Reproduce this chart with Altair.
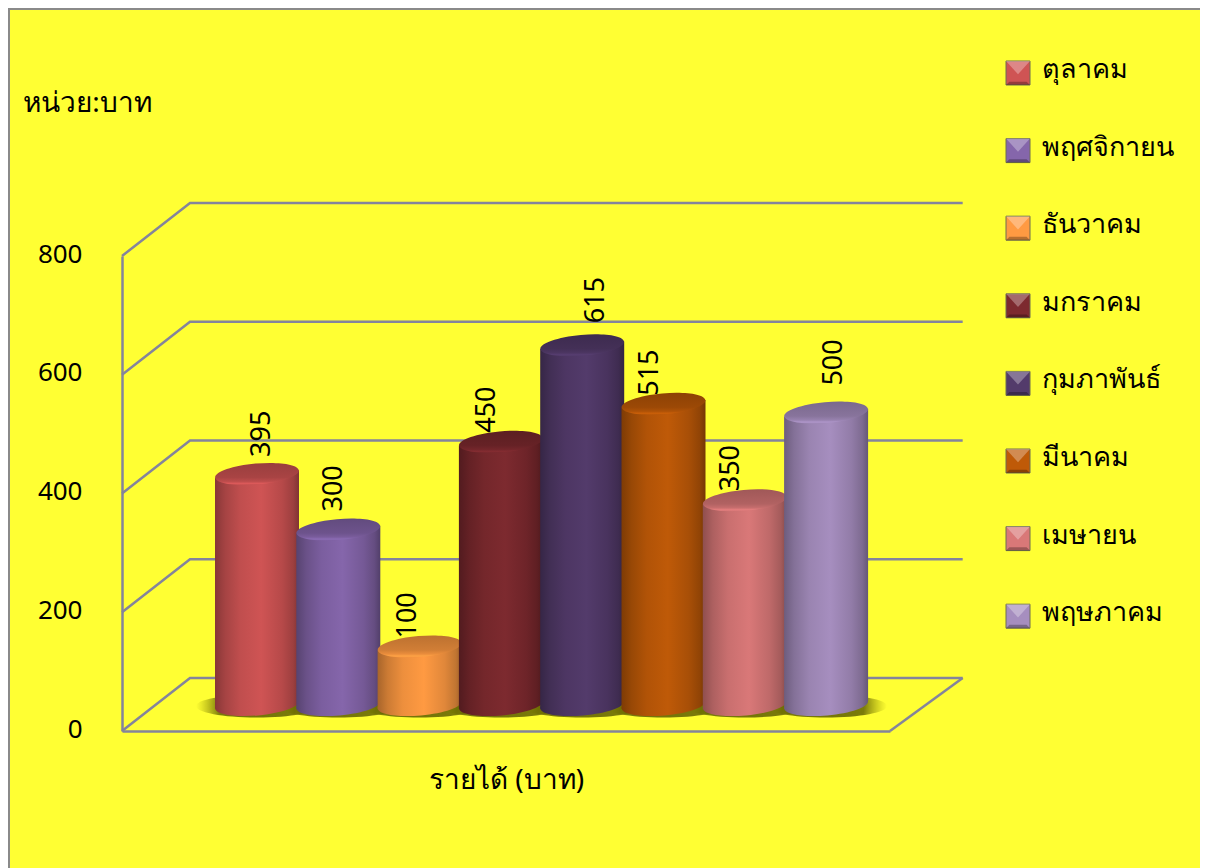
import altair as alt
import pandas as pd

MONTHS = ["ตุลาคม", "พฤศจิกายน", "ธันวาคม", "มกราคม", "กุมภาพันธ์", "มีนาคม", "เมษายน", "พฤษภาคม"]
VALUES = [395, 300, 100, 450, 615, 515, 350, 500]
COLORS = ["#cf5454", "#8566ab", "#ff9a42", "#7d2a2f", "#533b6b", "#bf5a08", "#d97878", "#a68ebf"]
TICKS = [0, 200, 400, 600, 800]
LABEL_SX = [5, -4, -12, -14, 14, -14, -14, 8]
LABEL_SY = [-17, -18, -8, -9, -22, -8, -9, -27]

FONT = "Noto Sans"
BG = "#ffff33"
LINE = "#84849c"
PLOT_W, PLOT_H = 768, 475
UX, UY = 81.3, PLOT_H / 800
X0 = -135 / UX
X1 = X0 + PLOT_W / UX
DEPTH_X, DEPTH_Y = 68 / UX, 53 / UY
BASE = 26 / UY
SHADOW_Y = 25 / UY
FORESHORTEN = 0.985
HALF = 42 / UX
TILT = 3.8 / UY
LEG_X = (1018 - 257) / UX
LEG_TX = (1042 - 257) / UX
LEG_TOP = (731 - 73) / UY
LEG_STEP = 77.6 / UY

xs = alt.Scale(domain=[X0, X1], nice=False, zero=False)
ys = alt.Scale(domain=[0, 800], nice=False, zero=False)
X_AXIS = alt.Axis(
    title="รายได้ (บาท)", labels=False, ticks=False, grid=False, domainColor=LINE, domainWidth=2.5,
    titleFont=FONT, titleFontSize=28, titleFontWeight="normal", titleColor="#000", titlePadding=35)
Y_AXIS = alt.Axis(
    values=TICKS, title="หน่วย:บาท", titleAngle=0, titleX=-35, titleY=-139, titleAlign="center",
    titleFont=FONT, titleFontSize=28, titleFontWeight="normal", titleColor="#000",
    labelFont=FONT, labelFontSize=26, labelColor="#000", labelPadding=40, labelOffset=-2, ticks=False, grid=False,
    domainColor=LINE, domainWidth=2.5)
X = lambda f="x": alt.X(f"{f}:Q", scale=xs, axis=X_AXIS)
Y = lambda f="y": alt.Y(f"{f}:Q", scale=ys, axis=Y_AXIS)


def shade(c, k):
    r, g, b = int(c[1:3], 16), int(c[3:5], 16), int(c[5:7], 16)
    return "#%02x%02x%02x" % tuple(min(255, int(v * k)) for v in (r, g, b))


def body_grad(c):
    stops = [(0, .66), (.12, .8), (.3, .93), (.55, 1.0), (.8, .88), (.93, .76), (1, .62)]
    return alt.LinearGradient(gradient="linear", x1=0, x2=1, y1=0, y2=0,
                              stops=[alt.GradientStop(offset=o, color=shade(c, k)) for o, k in stops])


def top_grad(c):
    stops = [(0, .74), (.66, .82), (.84, .92), (.93, 1.06), (1, .95)]
    return alt.LinearGradient(gradient="linear", x1=0, x2=0, y1=0, y2=1,
                              stops=[alt.GradientStop(offset=o, color=shade(c, k)) for o, k in stops])


ELLIPSE = "M-0.996,0.09 A1,0.25 -5 1 1 0.996,-0.09 A1,0.25 -5 1 1 -0.996,0.09 Z"
SHADOW = alt.RadialGradient(gradient="radial", x1=.5, y1=.5, x2=.5, y2=.5, r1=0, r2=.5, stops=[
    alt.GradientStop(offset=0, color="rgba(90,90,0,.85)"),
    alt.GradientStop(offset=.62, color="rgba(90,90,0,.8)"),
    alt.GradientStop(offset=1, color="rgba(140,140,0,0)"),
])

# walls and floor
grid = []
for v in TICKS:
    grid += [
        dict(v=v, o=0, x=X0, y=v),
        dict(v=v, o=1, x=X0 + DEPTH_X, y=v + DEPTH_Y),
        dict(v=v, o=2, x=8.68, y=v + DEPTH_Y),
    ]
grid += [dict(v=-1, o=0, x=8.68, y=DEPTH_Y), dict(v=-1, o=1, x=X1, y=0)]

base = alt.Chart(pd.DataFrame(grid)).mark_line(color=LINE, strokeWidth=2.5, interpolate="linear").encode(
    x=X(), y=Y(), detail="v:N", order="o:Q")

n = len(MONTHS)
bars = pd.DataFrame(dict(month=MONTHS, value=VALUES, i=range(n)))
bars["top"] = bars["value"] * FORESHORTEN + BASE
bars["base"] = BASE
bars["shadow"] = SHADOW_Y

shadow = alt.Chart(bars).mark_point(shape="M-1,0 A1,0.19 0 1 1 1,0 A1,0.19 0 1 1 -1,0 Z", size=122 ** 2, filled=True,
                                    opacity=1, strokeWidth=0, color=SHADOW).encode(
    x=X("i"), y=Y("shadow"))

layers = [base, shadow]
for i, (v, c) in enumerate(zip(VALUES, COLORS)):
    one = bars[bars.i == i]
    t = v * FORESHORTEN + BASE
    area = pd.DataFrame(dict(
        x=[i - HALF, i + HALF],
        y=[t - TILT, t + TILT],
        y2=[BASE - TILT, BASE + TILT],
    ))
    layers.append(alt.Chart(one).mark_point(shape=ELLIPSE, size=84 ** 2, filled=True, opacity=1, strokeWidth=0,
                                            color=body_grad(c)).encode(x=X("i"), y=Y("base")))
    layers.append(alt.Chart(area).mark_area(color=body_grad(c), opacity=1).encode(x=X(), y=Y(), y2="y2:Q"))
    layers.append(alt.Chart(one).mark_point(shape=ELLIPSE, size=84 ** 2, filled=True, opacity=1, strokeWidth=0,
                                            color=top_grad(c)).encode(x=X("i"), y=Y("top")))

for i in range(n):
    one = bars[bars.i == i]
    # the rotated text takes its offsets in its own turned frame
    layers.append(alt.Chart(one).mark_text(font=FONT, fontSize=27, color="#000", angle=270, align="left",
                                           baseline="middle", dx=-LABEL_SY[i], dy=LABEL_SX[i]).encode(
        x=X("i"), y=Y("top"), text="value:Q"))

# legend
leg = pd.DataFrame(dict(month=MONTHS, color=COLORS))
leg["row"] = range(n)
leg["y"] = LEG_TOP - leg["row"] * LEG_STEP
leg["x"] = LEG_X
leg["tx"] = LEG_TX
color = alt.Color("month:N", scale=alt.Scale(domain=MONTHS, range=COLORS), legend=None)
swatch = alt.Chart(leg).mark_point(shape="square", size=24 ** 2, filled=True, opacity=1, stroke="#6e6e50",
                                   strokeWidth=1).encode(x=X(), y=Y(), color=color)
swatch_top = alt.Chart(leg).mark_point(shape="M-1,-1 L1,-1 L0,0.1 Z", size=24 ** 2, filled=True, color="#ffffff",
                                       opacity=.3, strokeWidth=0).encode(x=X(), y=Y())
swatch_low = alt.Chart(leg).mark_point(shape="M-1,1 L1,1 L0.72,0.72 L-0.72,0.72 Z", size=24 ** 2, filled=True,
                                       color="#000000", opacity=.28, strokeWidth=0).encode(x=X(), y=Y())
leg_text = alt.Chart(leg).mark_text(font=FONT, fontSize=27, color="#000", align="left", baseline="middle",
                                    dy=-3).encode(x=X("tx"), y=Y(), text="month:N")
layers += [swatch, swatch_top, swatch_low, leg_text]

# picture frame
frame_t = alt.Chart(pd.DataFrame({"a": [0]})).mark_rule(color="#8a8a8a", strokeWidth=2).encode(
    x=alt.value(-114), x2=alt.value(1078), y=alt.value(-247))
frame_l = alt.Chart(pd.DataFrame({"a": [0]})).mark_rule(color="#8a8a8a", strokeWidth=2).encode(
    x=alt.value(-113), y=alt.value(-248), y2=alt.value(612))
layers += [frame_t, frame_l]

chart = alt.layer(*layers).properties(
    width=PLOT_W, height=PLOT_H,
    padding={"left": 114, "top": 248, "right": 310, "bottom": 137},
    autosize=alt.AutoSizeParams(type="none", contains="content"),
    background=BG,
).configure_view(stroke=None)

chart.save("out.html", embed_options={"renderer": "svg", "actions": False})
